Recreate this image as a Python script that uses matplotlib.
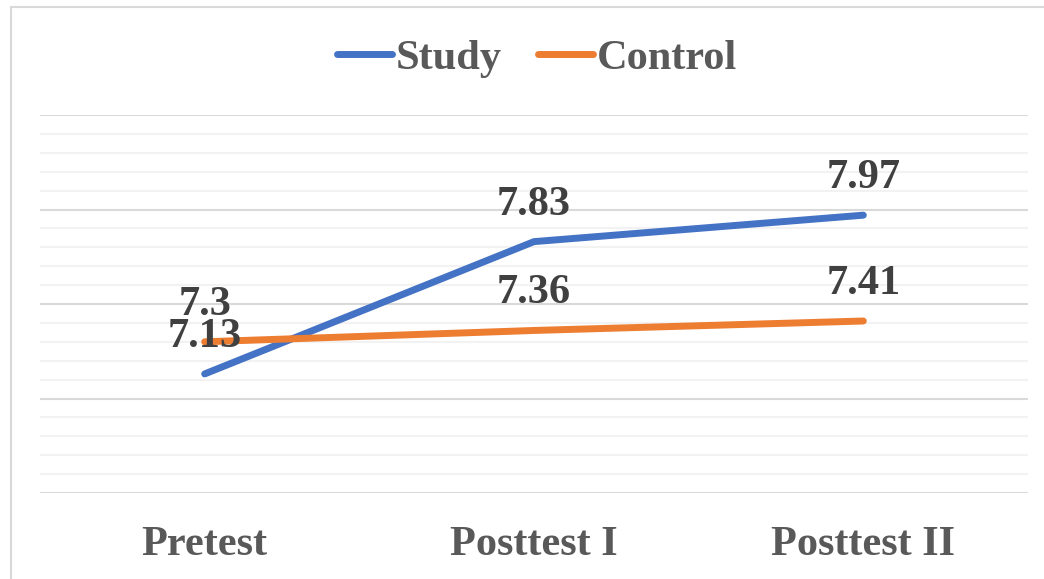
import matplotlib.pyplot as plt
from matplotlib.patches import Rectangle
import numpy as np

# chart data
categories = ['Pretest', 'Posttest I', 'Posttest II']
study = [7.13, 7.83, 7.97]
control = [7.30, 7.36, 7.41]

plt.rcParams['font.family'] = ['Liberation Serif', 'DejaVu Serif']
plt.rcParams['font.weight'] = 'bold'

W, H = 1044, 579
fig = plt.figure(figsize=(W / 100, H / 100), dpi=100)

# outer chart border (light gray, clipped at right/bottom edge)
fig.patches.append(Rectangle((11 / W, -0.05), 1.2, 1 - 7 / H + 0.05,
                             transform=fig.transFigure, fill=False,
                             edgecolor='#D9D9D9', linewidth=1.5))

ax = fig.add_axes([40 / W, 1 - 493 / H, (1028 - 40) / W, (493 - 115) / H])
x = np.arange(len(categories))

ax.set_xlim(-0.5, 2.5)
ax.set_ylim(6.5, 8.5)

# gridlines: major every 0.5, minor every 0.1
for v in np.arange(6.5, 8.51, 0.1):
    major = abs((v * 2) - round(v * 2)) < 1e-6
    ax.axhline(v, color='#D9D9D9' if major else '#F2F2F2',
               linewidth=1.5, zorder=0)

ax.plot(x, study, color='#4472C4', linewidth=5, solid_capstyle='round',
        label='Study', zorder=3)
ax.plot(x, control, color='#ED7D31', linewidth=5, solid_capstyle='round',
        label='Control', zorder=3)

for xi, v in zip(x, study):
    ax.annotate(f'{v:g}', (xi, v), xytext=(0, 27), textcoords='offset pixels',
                ha='center', va='baseline', fontsize=30.5, fontweight='bold',
                color='#404040', zorder=4)
for xi, v in zip(x, control):
    ax.annotate(f'{v:g}', (xi, v), xytext=(0, 27), textcoords='offset pixels',
                ha='center', va='baseline', fontsize=30.5, fontweight='bold',
                color='#404040', zorder=4)

ax.set_xticks(x)
ax.set_xticklabels(categories, fontsize=30.5, fontweight='bold', color='#595959')
ax.tick_params(axis='x', length=0, pad=24)
ax.set_yticks([])
for s in ax.spines.values():
    s.set_visible(False)

leg = fig.legend(loc='center', bbox_to_anchor=(537 / W, 1 - 59 / H), ncol=2,
                 frameon=False, fontsize=30.5, handlelength=1.3,
                 handletextpad=0.1, columnspacing=0.85)
for t in leg.get_texts():
    t.set_color('#595959')
    t.set_fontweight('bold')

fig.savefig('out.png', dpi=100)
